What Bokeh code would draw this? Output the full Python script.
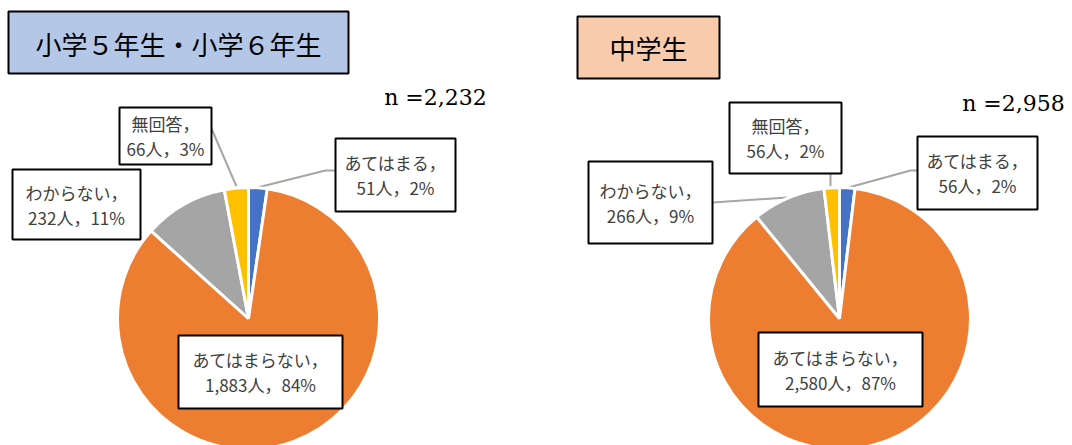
import math
from bokeh.plotting import figure
from bokeh.models import ColumnDataSource
from bokeh.core.properties import value
from bokeh.embed import file_html
from bokeh.resources import INLINE

# ---- data ----
categories = ["あてはまる", "あてはまらない", "わからない", "無回答"]
colors = ["#4472C4", "#ED7D31", "#A5A5A5", "#FFC000"]

elem_title = "小学５年生・小学６年生"
elem_counts = [51, 1883, 232, 66]
elem_pcts = [2, 84, 11, 3]
elem_n = "n =2,232"

jh_title = "中学生"
jh_counts = [56, 2580, 266, 56]
jh_pcts = [2, 87, 9, 2]
jh_n = "n =2,958"

# ---- layout helpers (screen px -> data coords) ----
W, H = 1072, 445
def X(sx):
    return sx
def Y(sy):
    return H - sy

FONT = value("Noto Sans CJK JP")

p = figure(width=W, height=H, x_range=(0, W), y_range=(0, H),
           output_backend="svg", toolbar_location=None, min_border=0,
           x_axis_location=None, y_axis_location=None)
p.grid.visible = False
p.outline_line_color = None
p.background_fill_color = "white"


def draw_pie(cx, cy, r, counts):
    total = sum(counts)
    starts, ends = [], []
    cum = 0
    for c in counts:
        starts.append(math.pi / 2 - 2 * math.pi * cum / total)
        cum += c
        ends.append(math.pi / 2 - 2 * math.pi * cum / total)
    src = ColumnDataSource(dict(start=starts, end=ends, color=colors))
    p.wedge(x=X(cx), y=Y(cy), radius=r, start_angle="start", end_angle="end",
            direction="clock", fill_color="color", line_color="white",
            line_width=3, source=src)


def draw_box(l, t, r, b, fill, lw=2):
    p.quad(left=[X(l)], right=[X(r)], top=[Y(t)], bottom=[Y(b)],
           fill_color=fill, line_color="black", line_width=lw)


def draw_label(box, cat, count, pct):
    l, t, r, b = box
    draw_box(l, t, r, b, "white", 2)
    cx = (l + r) / 2
    cy = (t + b) / 2
    lines = [f"{cat}，", f"{count:,}人，{pct}%"]
    p.text(x=[X(cx)] * 2, y=[Y(cy - 12.5), Y(cy + 12.5)], text=lines,
           text_align="center", text_baseline="middle", text_font=FONT,
           text_font_size="17px", text_color="#404040")


def leader(pts):
    p.line(x=[X(a) for a, _ in pts], y=[Y(b) for _, b in pts],
           line_color="#A6A6A6", line_width=2)


# ---- left chart ----
draw_box(8, 11, 348, 73, "#B4C7E7", 2)
p.text(x=[X(178)], y=[Y(43)], text=[elem_title], text_align="center",
       text_baseline="middle", text_font=FONT, text_font_size="26px",
       text_color="black")
p.text(x=[X(435)], y=[Y(97)], text=[elem_n], text_align="center",
       text_baseline="middle", text_font=value("DejaVu Serif"),
       text_font_size="22px", text_color="black")
leader([(257, 187), (325, 170), (335, 170)])
leader([(211, 128), (236, 186)])
draw_pie(248, 318, 131, elem_counts)
elem_boxes = [(335, 138, 455, 211), (178, 335, 342, 408),
              (12, 169, 140, 239), (119, 107, 211, 164)]
for i in range(4):
    draw_label(elem_boxes[i], categories[i], elem_counts[i], elem_pcts[i])

# ---- right chart ----
draw_box(577, 16, 719, 78, "#F8CBAD", 2)
p.text(x=[X(648)], y=[Y(47)], text=[jh_title], text_align="center",
       text_baseline="middle", text_font=FONT, text_font_size="26px",
       text_color="black")
p.text(x=[X(1013)], y=[Y(103)], text=[jh_n], text_align="center",
       text_baseline="middle", text_font=value("DejaVu Serif"),
       text_font_size="22px", text_color="black")
leader([(848, 187), (910, 170), (917, 170)])
leader([(830, 173), (830, 186)])
leader([(712, 202), (787, 197)])
draw_pie(839, 318, 131, jh_counts)
jh_boxes = [(917, 136, 1037, 209), (758, 332, 922, 406),
            (588, 161, 712, 243), (729, 102, 841, 173)]
for i in range(4):
    draw_label(jh_boxes[i], categories[i], jh_counts[i], jh_pcts[i])

open("out.html", "w").write(file_html(p, INLINE))
